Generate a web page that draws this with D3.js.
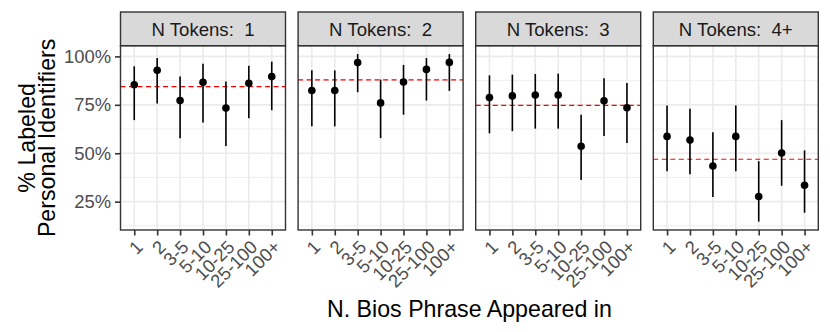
<!DOCTYPE html>
<html>
<head>
<meta charset="utf-8">
<script src="https://cdn.jsdelivr.net/npm/d3@7"></script>
<style>
  body { margin: 0; background: white; }
  text { font-family: "Liberation Sans", Arial, sans-serif; }
</style>
</head>
<body>
<script>
// bins of how many bios a phrase appeared in
var categories = ["1", "2", "3-5", "5-10", "10-25", "25-100", "100+"]
var panels = ["1", "2", "3", "4+"]

// point estimates per panel (N tokens)
var est1 = [0.854, 0.928, 0.772, 0.866, 0.733, 0.861, 0.896]
var est2 = [0.824, 0.824, 0.968, 0.760, 0.868, 0.933, 0.969]
var est3 = [0.788, 0.796, 0.801, 0.801, 0.536, 0.771, 0.735]
var est4 = [0.587, 0.568, 0.434, 0.587, 0.277, 0.501, 0.335]

// lower / upper interval ends
var lo1 = [0.671, 0.757, 0.578, 0.659, 0.537, 0.681, 0.722]
var hi1 = [0.949, 0.992, 0.896, 0.962, 0.870, 0.952, 0.973]
var lo2 = [0.639, 0.639, 0.815, 0.578, 0.699, 0.772, 0.822]
var hi2 = [0.928, 0.928, 1.012, 0.880, 0.956, 0.992, 1.012]
var lo3 = [0.603, 0.614, 0.627, 0.627, 0.362, 0.589, 0.553]
var hi3 = [0.902, 0.906, 0.909, 0.911, 0.699, 0.887, 0.863]
var lo4 = [0.407, 0.392, 0.274, 0.407, 0.147, 0.332, 0.193]
var hi4 = [0.747, 0.730, 0.609, 0.747, 0.459, 0.671, 0.515]

// red dashed reference line (panel average)
var refLines = [0.844, 0.879, 0.747, 0.469]

var yTicks = [0.25, 0.5, 0.75, 1.0]
var yMinor = [0.125, 0.375, 0.625, 0.875]

var ests = [est1, est2, est3, est4]
var los = [lo1, lo2, lo3, lo4]
var his = [hi1, hi2, hi3, hi4]

var width = 830
var height = 332
var panelLeft = 120.5
var panelWidth = 165
var panelGap = 12.6
var stripTop = 12
var stripHeight = 33.7
var plotTop = stripTop + stripHeight
var plotBottom = 230

var svg = d3.select("body")
   .append("svg")
   .attr("width", width)
   .attr("height", height)

// y domain: data range + 5% each side, like ggplot
var allVals = d3.merge(los.concat(his))
var ext = d3.extent(allVals)
var pad = (ext[1] - ext[0]) * 0.05
var y = d3.scaleLinear()
   .domain([ext[0] - pad, ext[1] + pad])
   .range([plotBottom, plotTop])

var x = d3.scalePoint()
   .domain(categories)
   .range([0, panelWidth])
   .padding(0.6)

panels.forEach(function (p, i) {
   var g = svg.append("g")
      .attr("transform", "translate(" + (panelLeft + i * (panelWidth + panelGap)) + ",0)")

   // grid
   g.selectAll(".minor")
      .data(yMinor)
      .enter()
      .append("line")
      .attr("x1", 0).attr("x2", panelWidth)
      .attr("y1", function (d) { return y(d) })
      .attr("y2", function (d) { return y(d) })
      .style("stroke", "#ebebeb")
      .style("stroke-width", 0.8)
   g.selectAll(".major")
      .data(yTicks)
      .enter()
      .append("line")
      .attr("x1", 0).attr("x2", panelWidth)
      .attr("y1", function (d) { return y(d) })
      .attr("y2", function (d) { return y(d) })
      .style("stroke", "#ebebeb")
      .style("stroke-width", 1.6)
   g.selectAll(".vgrid")
      .data(categories)
      .enter()
      .append("line")
      .attr("x1", function (d) { return x(d) })
      .attr("x2", function (d) { return x(d) })
      .attr("y1", plotTop).attr("y2", plotBottom)
      .style("stroke", "#ebebeb")
      .style("stroke-width", 1.6)

   // reference line
   g.append("line")
      .attr("x1", 0).attr("x2", panelWidth)
      .attr("y1", y(refLines[i])).attr("y2", y(refLines[i]))
      .style("stroke", "red")
      .style("stroke-width", 1.1)
      .style("stroke-dasharray", "5,3.5")

   var rows = categories.map(function (c, j) {
      return { cat: c, est: ests[i][j], lo: los[i][j], hi: his[i][j] }
   })

   g.selectAll(".bar")
      .data(rows)
      .enter()
      .append("line")
      .attr("x1", function (d) { return x(d.cat) })
      .attr("x2", function (d) { return x(d.cat) })
      .attr("y1", function (d) { return y(d.lo) })
      .attr("y2", function (d) { return y(d.hi) })
      .style("stroke", "black")
      .style("stroke-width", 1.6)
   g.selectAll(".pt")
      .data(rows)
      .enter()
      .append("circle")
      .attr("cx", function (d) { return x(d.cat) })
      .attr("cy", function (d) { return y(d.est) })
      .attr("r", 3.8)
      .style("fill", "black")

   // panel border
   g.append("rect")
      .attr("x", 0).attr("y", plotTop)
      .attr("width", panelWidth).attr("height", plotBottom - plotTop)
      .style("fill", "none")
      .style("stroke", "#333333")
      .style("stroke-width", 1.4)

   // strip
   g.append("rect")
      .attr("x", 0).attr("y", stripTop)
      .attr("width", panelWidth).attr("height", stripHeight)
      .style("fill", "#d9d9d9")
      .style("stroke", "#333333")
      .style("stroke-width", 1.4)
   g.append("text")
      .attr("x", panelWidth / 2)
      .attr("y", stripTop + stripHeight / 2)
      .attr("dy", "0.36em")
      .attr("text-anchor", "middle")
      .style("white-space", "pre")
      .style("font-size", "18.6px")
      .style("fill", "#1a1a1a")
      .text("N Tokens:  " + p)

   // x axis
   var xAxis = g.append("g")
      .attr("transform", "translate(0," + plotBottom + ")")
      .call(d3.axisBottom(x).tickSize(5.5).tickPadding(3.5))
   xAxis.select(".domain").remove()
   xAxis.selectAll(".tick line").style("stroke", "#333333").style("stroke-width", 1.6)
   xAxis.selectAll(".tick text")
      .style("font-size", "18.4px")
      .style("fill", "#4d4d4d")
      .attr("text-anchor", "end")
      .attr("y", 0).attr("dy", "0.71em")
      .attr("transform", "translate(0,9) rotate(-45)")

   // y axis on first panel only
   if (i === 0) {
      var yAxis = g.append("g")
         .call(d3.axisLeft(y).tickValues(yTicks).tickSize(5.5).tickPadding(4)
            .tickFormat(d3.format(".0%")))
      yAxis.select(".domain").remove()
      yAxis.selectAll(".tick line").style("stroke", "#333333").style("stroke-width", 1.6)
      yAxis.selectAll(".tick text")
         .style("font-size", "18.4px")
         .style("fill", "#4d4d4d")
   }
})

// axis titles
svg.append("text")
   .attr("x", panelLeft + (4 * panelWidth + 3 * panelGap) / 2)
   .attr("y", 316.5)
   .attr("text-anchor", "middle")
   .style("font-size", "23.2px")
   .style("fill", "black")
   .text("N. Bios Phrase Appeared in")

var yMid = (plotTop + plotBottom) / 2
var yTitle = svg.append("text")
   .attr("transform", "translate(0," + yMid + ") rotate(-90)")
   .attr("text-anchor", "middle")
   .style("font-size", "23.2px")
   .style("fill", "black")
yTitle.append("tspan").attr("x", 0).attr("y", 35).text("% Labeled")
yTitle.append("tspan").attr("x", 0).attr("y", 55).text("Personal Identifiers")
</script>
</body>
</html>
